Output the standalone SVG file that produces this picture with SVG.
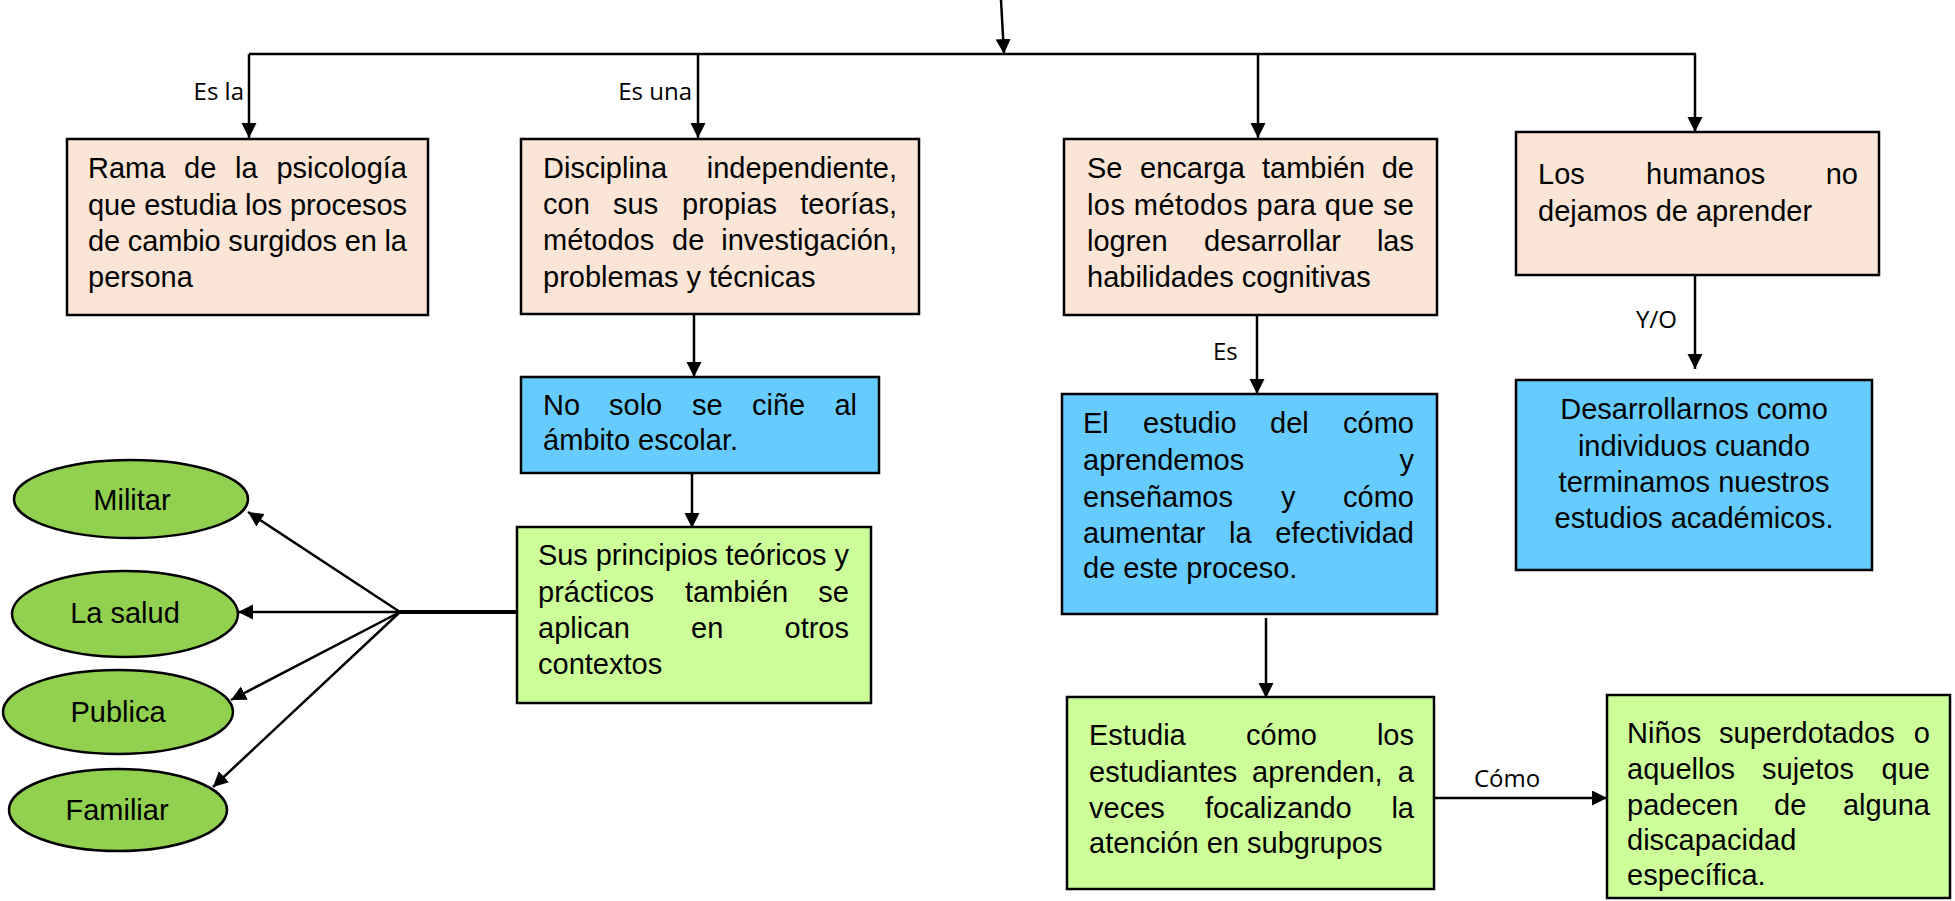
<svg xmlns="http://www.w3.org/2000/svg" width="1955" height="901" viewBox="0 0 1955 901">
<defs>
<marker id="arr" markerUnits="userSpaceOnUse" markerWidth="16" markerHeight="16" refX="15" refY="7.5" orient="auto">
<path d="M0,0 L15,7.5 L0,15 z" fill="#000"/>
</marker>
<style>
.box{stroke:#000;stroke-width:2.5}
.peach{fill:#FBE5D6}
.blue{fill:#66CCFF}
.lgreen{fill:#CCFF99}
.green{fill:#92D050}
.t{font-family:"Liberation Sans",Arial,sans-serif;font-size:29px;fill:#000}
.e{text-anchor:end}
.m{text-anchor:middle}
.lbl{font-family:"Open Sans","Liberation Sans",sans-serif;font-size:24px;fill:#000}
.c{stroke:#000;stroke-width:2.5;fill:none}
.a{marker-end:url(#arr)}
</style>
</defs>
<rect width="1955" height="901" fill="#fff"/>

<g id="connectors">
<line class="c a" x1="1001" y1="0" x2="1004" y2="54"/>
<line class="c" x1="249" y1="54" x2="1696" y2="54"/>
<line class="c a" x1="249" y1="54" x2="249" y2="138"/>
<line class="c a" x1="698" y1="54" x2="698" y2="138"/>
<line class="c a" x1="1258" y1="54" x2="1258" y2="138"/>
<line class="c a" x1="1695" y1="54" x2="1695" y2="132"/>
<line class="c a" x1="694" y1="315" x2="694" y2="377"/>
<line class="c a" x1="692" y1="474" x2="692" y2="528"/>
<line class="c a" x1="1257" y1="316" x2="1257" y2="394"/>
<line class="c a" x1="1695" y1="276" x2="1695" y2="369"/>
<line class="c a" x1="1266" y1="618" x2="1266" y2="698"/>
<line class="c a" x1="1434" y1="798" x2="1607" y2="798"/>
<line x1="400" y1="612" x2="518" y2="612" stroke="#000" stroke-width="4"/>
<line class="c a" x1="400" y1="612" x2="248" y2="512"/>
<line class="c a" x1="400" y1="612" x2="238" y2="612"/>
<line class="c a" x1="400" y1="612" x2="231" y2="700"/>
<line class="c a" x1="400" y1="612" x2="213" y2="787"/>
<text class="lbl e" x="244" y="100">Es la</text>
<text class="lbl e" x="692" y="100">Es una</text>
<text class="lbl" x="1213" y="360">Es</text>
<text class="lbl" x="1636" y="328">Y/O</text>
<text class="lbl" x="1474" y="787">Cómo</text>
</g>

<g id="n1">
<rect class="box peach" x="67" y="139" width="361" height="176"/>
<text class="t" x="88" y="178">Rama</text>
<text class="t" x="184" y="178">de</text>
<text class="t" x="235" y="178">la</text>
<text class="t e" x="407" y="178">psicología</text>
<text class="t" x="88" y="215" textLength="319" lengthAdjust="spacing">que estudia los procesos</text>
<text class="t" x="88" y="251" textLength="319" lengthAdjust="spacing">de cambio surgidos en la</text>
<text class="t" x="88" y="287">persona</text>
</g>

<g id="n2">
<rect class="box peach" x="521" y="139" width="398" height="175"/>
<text class="t" x="543" y="178">Disciplina</text>
<text class="t e" x="897" y="178">independiente,</text>
<text class="t" x="543" y="214">con</text>
<text class="t" x="613" y="214">sus</text>
<text class="t" x="682" y="214">propias</text>
<text class="t e" x="897" y="214">teorías,</text>
<text class="t" x="543" y="250">métodos</text>
<text class="t" x="672" y="250">de</text>
<text class="t e" x="897" y="250">investigación,</text>
<text class="t" x="543" y="287">problemas y técnicas</text>
</g>

<g id="n3">
<rect class="box peach" x="1064" y="139" width="373" height="176"/>
<text class="t" x="1087" y="178">Se</text>
<text class="t" x="1140" y="178">encarga</text>
<text class="t" x="1262" y="178">también</text>
<text class="t e" x="1414" y="178">de</text>
<text class="t" x="1087" y="215" textLength="327" lengthAdjust="spacing">los métodos para que se</text>
<text class="t" x="1087" y="251">logren</text>
<text class="t" x="1204" y="251">desarrollar</text>
<text class="t e" x="1414" y="251">las</text>
<text class="t" x="1087" y="287">habilidades cognitivas</text>
</g>

<g id="n4">
<rect class="box peach" x="1516" y="132" width="363" height="143"/>
<text class="t" x="1538" y="184">Los</text>
<text class="t" x="1646" y="184">humanos</text>
<text class="t e" x="1858" y="184">no</text>
<text class="t" x="1538" y="221">dejamos de aprender</text>
</g>

<g id="n5">
<rect class="box blue" x="521" y="377" width="358" height="96"/>
<text class="t" x="543" y="415">No</text>
<text class="t" x="609" y="415">solo</text>
<text class="t" x="692" y="415">se</text>
<text class="t" x="752" y="415">ciñe</text>
<text class="t e" x="857" y="415">al</text>
<text class="t" x="543" y="450">ámbito escolar.</text>
</g>

<g id="n6">
<rect class="box blue" x="1062" y="394" width="375" height="220"/>
<text class="t" x="1083" y="433">El</text>
<text class="t" x="1143" y="433">estudio</text>
<text class="t" x="1270" y="433">del</text>
<text class="t e" x="1414" y="433">cómo</text>
<text class="t" x="1083" y="470">aprendemos</text>
<text class="t e" x="1414" y="470">y</text>
<text class="t" x="1083" y="507">enseñamos</text>
<text class="t" x="1281" y="507">y</text>
<text class="t e" x="1414" y="507">cómo</text>
<text class="t" x="1083" y="543">aumentar</text>
<text class="t" x="1229" y="543">la</text>
<text class="t e" x="1414" y="543">efectividad</text>
<text class="t" x="1083" y="578">de este proceso.</text>
</g>

<g id="n7">
<rect class="box blue" x="1516" y="380" width="356" height="190"/>
<text class="t m" x="1694" y="419">Desarrollarnos como</text>
<text class="t m" x="1694" y="456">individuos cuando</text>
<text class="t m" x="1694" y="492">terminamos nuestros</text>
<text class="t m" x="1694" y="528">estudios académicos.</text>
</g>

<g id="n8">
<rect class="box lgreen" x="517" y="527" width="354" height="176"/>
<text class="t" x="538" y="565" textLength="311" lengthAdjust="spacing">Sus principios teóricos y</text>
<text class="t" x="538" y="602">prácticos</text>
<text class="t" x="685" y="602">también</text>
<text class="t e" x="849" y="602">se</text>
<text class="t" x="538" y="638">aplican</text>
<text class="t" x="691" y="638">en</text>
<text class="t e" x="849" y="638">otros</text>
<text class="t" x="538" y="674">contextos</text>
</g>

<g id="n9">
<rect class="box lgreen" x="1067" y="697" width="367" height="192"/>
<text class="t" x="1089" y="745">Estudia</text>
<text class="t" x="1246" y="745">cómo</text>
<text class="t e" x="1414" y="745">los</text>
<text class="t" x="1089" y="782">estudiantes</text>
<text class="t" x="1252" y="782">aprenden,</text>
<text class="t e" x="1414" y="782">a</text>
<text class="t" x="1089" y="818">veces</text>
<text class="t" x="1205" y="818">focalizando</text>
<text class="t e" x="1414" y="818">la</text>
<text class="t" x="1089" y="853">atención en subgrupos</text>
</g>

<g id="n10">
<rect class="box lgreen" x="1607" y="695" width="343" height="203"/>
<text class="t" x="1627" y="743">Niños</text>
<text class="t" x="1719" y="743">superdotados</text>
<text class="t e" x="1930" y="743">o</text>
<text class="t" x="1627" y="779">aquellos</text>
<text class="t" x="1762" y="779">sujetos</text>
<text class="t e" x="1930" y="779">que</text>
<text class="t" x="1627" y="815">padecen</text>
<text class="t" x="1774" y="815">de</text>
<text class="t e" x="1930" y="815">alguna</text>
<text class="t" x="1627" y="850">discapacidad</text>
<text class="t" x="1627" y="885">específica.</text>
</g>

<g id="e1">
<ellipse class="box green" cx="131" cy="499" rx="117" ry="39"/>
<text class="t m" x="132" y="510">Militar</text>
</g>
<g id="e2">
<ellipse class="box green" cx="125" cy="614" rx="113" ry="43"/>
<text class="t m" x="125" y="623">La salud</text>
</g>
<g id="e3">
<ellipse class="box green" cx="118" cy="712" rx="115" ry="42"/>
<text class="t m" x="118" y="722">Publica</text>
</g>
<g id="e4">
<ellipse class="box green" cx="118" cy="810" rx="109" ry="41"/>
<text class="t m" x="117" y="820">Familiar</text>
</g>
</svg>
